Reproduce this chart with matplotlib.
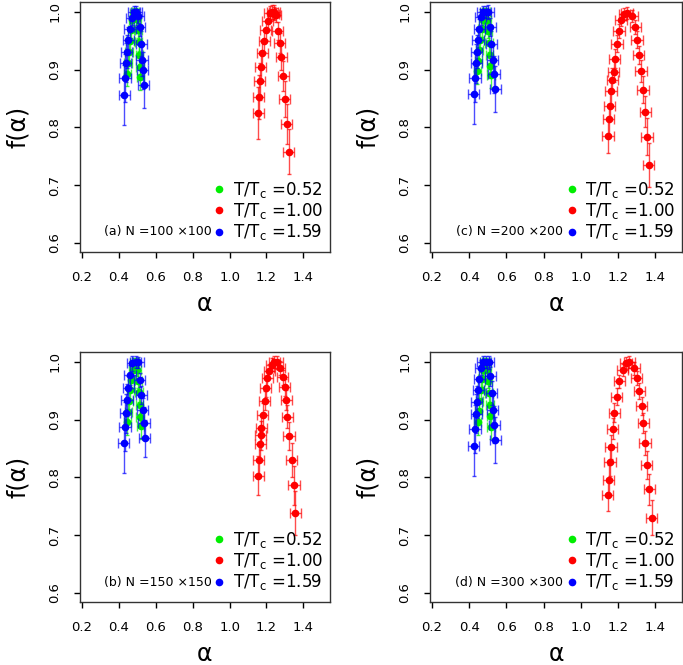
import numpy as np
import matplotlib.pyplot as plt
from matplotlib.lines import Line2D

##temperatures and lattice sizes
temps = ['0.52', '1.00', '1.59']
colors = ['#00ee00', '#ff0000', '#0000ff']
sizes = ['(a) N =100 \u00d7100', '(b) N =150 \u00d7150',
         '(c) N =200 \u00d7200', '(d) N =300 \u00d7300']

##green, T/Tc = 0.52 (mostly hidden below blue)
green_a_x = [0.445, 0.450, 0.455, 0.461, 0.467, 0.473, 0.480, 0.490, 0.498, 0.503, 0.507, 0.511, 0.514, 0.517]
green_a_y = [0.893, 0.912, 0.930, 0.950, 0.968, 0.985, 0.998, 0.999, 0.987, 0.968, 0.948, 0.926, 0.905, 0.887]
green_b_x = [0.446, 0.451, 0.456, 0.462, 0.468, 0.474, 0.481, 0.491, 0.499, 0.504, 0.508, 0.512, 0.515, 0.518]
green_b_y = [0.895, 0.914, 0.932, 0.951, 0.969, 0.986, 0.998, 0.999, 0.986, 0.967, 0.947, 0.925, 0.905, 0.889]
green_c_x = [0.444, 0.449, 0.454, 0.460, 0.466, 0.472, 0.479, 0.489, 0.497, 0.502, 0.506, 0.510, 0.513, 0.516]
green_c_y = [0.897, 0.915, 0.933, 0.952, 0.970, 0.986, 0.998, 0.999, 0.986, 0.967, 0.946, 0.925, 0.906, 0.890]
green_d_x = [0.445, 0.450, 0.455, 0.461, 0.467, 0.473, 0.480, 0.490, 0.498, 0.503, 0.507, 0.511, 0.514, 0.517]
green_d_y = [0.896, 0.915, 0.933, 0.952, 0.970, 0.986, 0.998, 0.999, 0.986, 0.967, 0.946, 0.925, 0.906, 0.888]
green_yerr = [0.022, 0.020, 0.018, 0.016, 0.013, 0.010, 0.008, 0.008, 0.010, 0.013, 0.016, 0.018, 0.020, 0.022]

##red, T/Tc = 1.00
red_a_x = [1.155, 1.159, 1.164, 1.168, 1.177, 1.189, 1.196, 1.207, 1.218, 1.231, 1.238, 1.243,
           1.249, 1.261, 1.272, 1.280, 1.291, 1.299, 1.309, 1.321]
red_a_y = [0.824, 0.853, 0.880, 0.905, 0.928, 0.950, 0.968, 0.984, 0.998, 1.000, 0.997, 0.999,
           0.994, 0.967, 0.946, 0.921, 0.889, 0.849, 0.806, 0.758]
red_a_yerr = [0.045, 0.038, 0.032, 0.027, 0.023, 0.019, 0.016, 0.014, 0.012, 0.012, 0.012, 0.012,
              0.012, 0.015, 0.018, 0.022, 0.026, 0.031, 0.035, 0.039]
red_b_x = [1.156, 1.159, 1.165, 1.168, 1.172, 1.179, 1.190, 1.197, 1.204, 1.215, 1.228, 1.242, 1.259,
           1.273, 1.288, 1.300, 1.306, 1.313, 1.322, 1.337, 1.349, 1.356]
red_b_y = [0.803, 0.830, 0.858, 0.873, 0.885, 0.908, 0.933, 0.955, 0.972, 0.984, 0.995, 1.000, 0.999,
           0.989, 0.973, 0.956, 0.934, 0.905, 0.871, 0.830, 0.786, 0.738]
red_b_yerr = [0.034, 0.030, 0.027, 0.025, 0.023, 0.020, 0.017, 0.015, 0.013, 0.012, 0.011, 0.011, 0.011,
              0.012, 0.013, 0.015, 0.017, 0.020, 0.024, 0.029, 0.034, 0.038]
red_c_x = [1.146, 1.149, 1.154, 1.162, 1.169, 1.176, 1.181, 1.194, 1.205, 1.216, 1.233, 1.248,
           1.275, 1.293, 1.302, 1.310, 1.323, 1.334, 1.346, 1.356, 1.364]
red_c_y = [0.785, 0.814, 0.837, 0.862, 0.882, 0.896, 0.919, 0.945, 0.967, 0.986, 0.996, 0.998,
           0.993, 0.973, 0.952, 0.925, 0.898, 0.865, 0.827, 0.784, 0.735]
red_c_yerr = [0.030, 0.027, 0.025, 0.022, 0.020, 0.018, 0.016, 0.014, 0.012, 0.011, 0.010, 0.010,
              0.010, 0.012, 0.014, 0.016, 0.019, 0.023, 0.027, 0.032, 0.038]
red_d_x = [1.145, 1.150, 1.157, 1.162, 1.171, 1.180, 1.193, 1.207, 1.225, 1.243, 1.261,
           1.286, 1.300, 1.315, 1.327, 1.336, 1.345, 1.354, 1.367, 1.381]
red_d_y = [0.770, 0.796, 0.826, 0.853, 0.884, 0.912, 0.940, 0.966, 0.986, 0.998, 1.000,
           0.989, 0.972, 0.949, 0.924, 0.894, 0.859, 0.821, 0.779, 0.730]
red_d_yerr = [0.029, 0.026, 0.023, 0.021, 0.018, 0.016, 0.014, 0.012, 0.011, 0.010, 0.010,
              0.011, 0.012, 0.014, 0.016, 0.018, 0.021, 0.024, 0.027, 0.030]

##blue, T/Tc = 1.59
blue_a_x = [0.428, 0.433, 0.438, 0.442, 0.451, 0.460, 0.469, 0.482, 0.495, 0.505, 0.514, 0.520, 0.525, 0.529, 0.534]
blue_a_y = [0.856, 0.885, 0.912, 0.931, 0.951, 0.971, 0.990, 1.000, 1.000, 0.993, 0.974, 0.945, 0.916, 0.899, 0.874]
blue_b_x = [0.426, 0.433, 0.438, 0.444, 0.451, 0.460, 0.473, 0.490, 0.505, 0.514, 0.521, 0.529, 0.536, 0.539]
blue_b_y = [0.859, 0.888, 0.911, 0.934, 0.954, 0.977, 0.998, 1.000, 0.999, 0.968, 0.943, 0.917, 0.894, 0.868]
blue_c_x = [0.425, 0.431, 0.437, 0.440, 0.447, 0.454, 0.462, 0.473, 0.488, 0.503, 0.512, 0.519, 0.526, 0.533, 0.540]
blue_c_y = [0.857, 0.886, 0.911, 0.931, 0.951, 0.971, 0.991, 1.000, 1.000, 0.999, 0.974, 0.945, 0.916, 0.892, 0.866]
blue_d_x = [0.424, 0.431, 0.437, 0.441, 0.448, 0.455, 0.463, 0.474, 0.489, 0.504, 0.513, 0.520, 0.527, 0.534, 0.540]
blue_d_y = [0.855, 0.884, 0.910, 0.930, 0.951, 0.971, 0.990, 1.000, 1.000, 0.999, 0.975, 0.946, 0.917, 0.891, 0.865]
blue_yerr = [0.052, 0.042, 0.034, 0.028, 0.022, 0.017, 0.013, 0.010, 0.010, 0.012, 0.016, 0.021, 0.027, 0.032, 0.040]

panels = [
    (sizes[0], [(green_a_x, green_a_y, green_yerr), (red_a_x, red_a_y, red_a_yerr), (blue_a_x, blue_a_y, blue_yerr)]),
    (sizes[2], [(green_c_x, green_c_y, green_yerr), (red_c_x, red_c_y, red_c_yerr), (blue_c_x, blue_c_y, blue_yerr)]),
    (sizes[1], [(green_b_x, green_b_y, green_yerr), (red_b_x, red_b_y, red_b_yerr), (blue_b_x, blue_b_y, blue_yerr[:14])]),
    (sizes[3], [(green_d_x, green_d_y, green_yerr), (red_d_x, red_d_y, red_d_yerr), (blue_d_x, blue_d_y, blue_yerr)]),
]
rects = [[0.1171, 0.6211, 0.3660, 0.3759], [0.6296, 0.6211, 0.3690, 0.3759],
         [0.1171, 0.0947, 0.3660, 0.3759], [0.6296, 0.0947, 0.3690, 0.3759]]

fig = plt.figure(figsize=(6.83, 6.65), dpi=100)

for rect, (tag, series) in zip(rects, panels):
    ax = fig.add_axes(rect)
    for (x, y, ye), col in zip(series, colors):
        xe = 0.02 if col == '#00ee00' else 0.03
        ax.errorbar(x, y, xerr=xe, fmt='none', ecolor=col, alpha=0.7,
                    elinewidth=1, capsize=3.5, capthick=1)
        ax.errorbar(x, y, yerr=ye, fmt='none', ecolor=col, alpha=0.7,
                    elinewidth=1, capsize=1.5, capthick=1)
        ax.plot(x, y, 'o', color=col, ms=5.5, mew=0)

    ax.set_xlim(0.189, 1.544)
    ax.set_ylim(0.584, 1.017)
    ax.set_xticks([0.2, 0.4, 0.6, 0.8, 1.0, 1.2, 1.4])
    ax.set_xticklabels(['0.2', '0.4', '0.6', '0.8', '1.0', '1.2', '1.4'])
    ax.set_yticks([0.6, 0.7, 0.8, 0.9, 1.0])
    ax.set_yticklabels(['0.6', '0.7', '0.8', '0.9', '1.0'], rotation=90, va='center')
    ax.tick_params(labelsize=9.5, length=4.5, width=1)
    ax.tick_params(axis='x', pad=9)
    ax.tick_params(axis='y', pad=9)
    for s in ax.spines.values():
        s.set_linewidth(1)
        s.set_color('#333333')
    ax.set_xlabel('\u03b1', fontsize=17)
    ax.set_ylabel('f(\u03b1)', fontsize=17)
    ax.xaxis.set_label_coords(0.5, -0.16)
    ax.yaxis.set_label_coords(-0.2, 0.5)

    ##legend with dots only
    handles = [Line2D([], [], ls='none', marker='o', ms=5.5, mew=0, color=c) for c in colors]
    labels = ['T/T$_\\mathrm{c}$ =' + t for t in temps]
    ax.legend(handles, labels, loc='lower right', bbox_to_anchor=(0.985, 0.025),
              frameon=False, fontsize=12, handlelength=0.6, handletextpad=0.5,
              labelspacing=0.08, borderpad=0.2, borderaxespad=0)
    ax.text(0.528, 0.08, tag, transform=ax.transAxes, ha='right', va='center', fontsize=9)

plt.savefig('out.png', dpi=100)
